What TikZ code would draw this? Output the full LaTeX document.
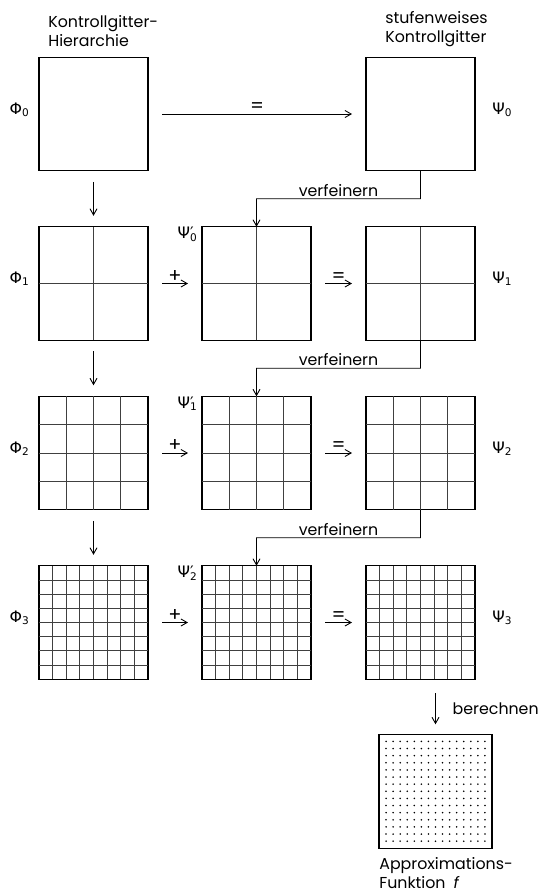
\documentclass[tikz,border=0pt]{standalone}
\usepackage{fontspec}
\setmainfont{Poppins}
\newfontfamily\grk{DejaVu Sans}
\usetikzlibrary{arrows.meta, positioning, calc}

\begin{document}
\begin{tikzpicture}[
 node distance=1.12cm and 1.08cm,
 feld/.style={rectangle, draw, line width=0.6pt, minimum width=2.18cm, minimum height=2.27cm, inner sep=0pt, outer sep=0pt},
 gitter/.style={line width=0.5pt, black!75},
 head/.style={align=left, font=\fontsize{9}{11}\selectfont, inner sep=0pt},
 lab/.style={font=\grk\fontsize{9}{11}\selectfont, inner sep=0pt},
 txt/.style={font=\fontsize{9}{11}\selectfont, inner sep=1pt},
 op/.style={font=\fontsize{11}{12}\selectfont, inner sep=0.5pt},
 arrow/.style={-{Straight Barb[length=3.5pt,width=4pt]}, line width=0.5pt},
 pfeil/.style={arrow, shorten <=0.28cm, shorten >=0.28cm},
 ab/.style={arrow, shorten <=0.22cm, shorten >=0.22cm}
]
\useasboundingbox (0,0) rectangle (10.82,-17.86);

% linke Spalte: Kontrollgitter-Hierarchie
\node[feld] (p0) at (1.87,-2.28) {};
\node[feld, below=of p0] (p1) {};
\node[feld, below=of p1] (p2) {};
\node[feld, below=of p2] (p3) {};

% mittlere Spalte
\node[feld, right=1.08cm of p1] (q1) {};
\node[feld, right=1.08cm of p2] (q2) {};
\node[feld, right=1.08cm of p3] (q3) {};

% rechte Spalte: stufenweises Kontrollgitter
\node[feld, right=1.1cm of q1] (r1) {};
\node[feld, above=of r1] (r0) {};
\node[feld, right=1.1cm of q2] (r2) {};
\node[feld, right=1.1cm of q3] (r3) {};

% Approximationsfunktion
\node[feld, minimum width=2.26cm, minimum height=2.28cm, below=1.1cm of r3, xshift=0.3cm] (f) {};

% Gitterlinien
\foreach \n/\m in {p1/1,q1/1,r1/1,p2/3,q2/3,r2/3,p3/7,q3/7,r3/7} {
  \foreach \i [evaluate=\i as \t using \i/(\m+1)] in {1,...,\m} {
    \draw[gitter] ($(\n.south west)!\t!(\n.south east)$) -- ($(\n.north west)!\t!(\n.north east)$);
    \draw[gitter] ($(\n.south west)!\t!(\n.north west)$) -- ($(\n.south east)!\t!(\n.north east)$);
  }
}

% Punkte der Funktion
\foreach \i in {1,...,15}
  \foreach \j in {1,...,15}
    \fill ($(f.south west)+(\i*0.14125,\j*0.1425)$) circle (0.5pt);

% Beschriftungen
\foreach \k in {0,...,3} {
  \node[lab, anchor=base east] (phi\k) at ([xshift=-0.18cm]p\k.west) {Φ\textsubscript{\k}};
  \node[lab, anchor=base west] (psi\k) at ([xshift=0.34cm]r\k.east) {Ψ\textsubscript{\k}};
}
\foreach \k/\l in {1/0,2/1,3/2}
  \node[lab, anchor=north east] (psip\l) at ([xshift=-0.08cm]q\k.north west) {Ψ\rlap{′}\textsubscript{\l}};

\node[head, anchor=south west] (h0) at ($(p0.north west)+(0.18,0.2)$) {Kontrollgitter-\\Hierarchie};
\node[head, anchor=south west] (h1) at ($(r0.north west)+(0.38,0.2)$) {stufenweises\\Kontrollgitter};
\node[head, anchor=north west] (h2) at ($(f.south west)+(0,-0.17)$) {Approximations-\\Funktion\enspace\textit{f}};

% Pfeile
\draw[pfeil] (p0) -- node[op, above] {=} (r0);
\foreach \k in {1,2,3} {
  \draw[pfeil] (p\k) -- node[op, above] {+} (q\k);
  \draw[pfeil] (q\k) -- node[op, above] {=} (r\k);
}
\draw[ab] (p0) -- (p1);
\draw[ab] (p1) -- (p2);
\draw[ab] (p2) -- (p3);

% verfeinern
\foreach \k/\l in {0/1,1/2,2/3}
  \draw[arrow] (r\k.south) |- node[txt, pos=0.75, above] {verfeinern} ($(q\l.north)!0.5!(q\l.north |- r\k.south)$) -- (q\l.north);

% berechnen
\coordinate (b0) at ($(f.north |- r3.south)+(0,-0.28)$);
\coordinate (b1) at ($(f.north)+(0,0.2)$);
\draw[arrow] (b0) -- node[txt, right=0.3cm] {berechnen} (b1);
\end{tikzpicture}
\end{document}
